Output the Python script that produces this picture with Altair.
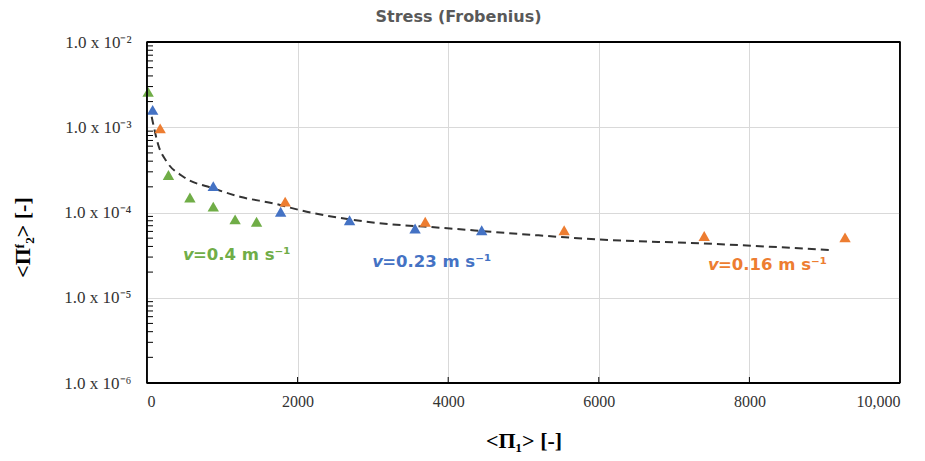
import altair as alt
import pandas as pd

# ---- data ----
green_x = [15, 285, 570, 880, 1170, 1455]
green_y = [2.6e-3, 2.75e-4, 1.5e-4, 1.17e-4, 8.3e-5, 7.8e-5]
blue_x = [75, 880, 1775, 2690, 3560, 4445]
blue_y = [1.6e-3, 2.04e-4, 1.02e-4, 8.1e-5, 6.5e-5, 6.2e-5]
orange_x = [175, 1835, 3695, 5540, 7400, 9270]
orange_y = [9.7e-4, 1.34e-4, 7.8e-5, 6.2e-5, 5.3e-5, 5.1e-5]

series_names = ["v=0.4", "v=0.23", "v=0.16"]
series_colors = ["#70AD47", "#4472C4", "#ED7D31"]

fit_x = [62, 76, 150, 262, 482, 880, 1235, 1677, 2121, 2918, 4024, 5126, 6149, 7344, 9070]
fit_y = [1.33e-3, 1.16e-3, 6.2e-4, 3.95e-4, 2.63e-4, 1.92e-4, 1.53e-4, 1.28e-4,
         1.02e-4, 7.8e-5, 6.5e-5, 5.45e-5, 4.75e-5, 4.35e-5, 3.63e-5]

x_ticks = [0, 2000, 4000, 6000, 8000, 10000]
x_tick_labels = ["0", "2000", "4000", "6000", "8000", "10,000"]
y_ticks = [1e-6, 1e-5, 1e-4, 1e-3, 1e-2]
y_tick_labels = ["1.0 x 10\u207b\u2076", "1.0 x 10\u207b\u2075", "1.0 x 10\u207b\u2074",
                 "1.0 x 10\u207b\u00b3", "1.0 x 10\u207b\u00b2"]
minor_mult = [2, 3, 4, 5, 6, 7, 8, 9]
y_minor = [d * m for d in y_ticks[:-1] for m in minor_mult]

ann_x = [478, 2990, 7450]
ann_y = [3.16e-5, 2.62e-5, 2.42e-5]
ann_text = ["=0.4 m s\u207b\u00b9", "=0.23 m s\u207b\u00b9", "=0.16 m s\u207b\u00b9"]

# ---- tables ----
pts = pd.DataFrame({
    "x": green_x + blue_x + orange_x,
    "y": green_y + blue_y + orange_y,
    "series": [series_names[0]] * 6 + [series_names[1]] * 6 + [series_names[2]] * 6,
})
fit = pd.DataFrame({"x": fit_x, "y": fit_y})
ann = pd.DataFrame({"x": ann_x, "y": ann_y, "t": ann_text, "c": series_colors})
minor_df = pd.DataFrame({"y": y_minor})
xt_df = pd.DataFrame({"x": x_ticks[1:-1]})
one = pd.DataFrame({"k": [0]})

W, H = 753, 341

xscale = alt.Scale(domain=[0, 10000], nice=False, zero=False)
yscale = alt.Scale(type="log", domain=[1e-6, 1e-2], nice=False)

x_lab_expr = "[" + ",".join("'%s'" % s for s in x_tick_labels) + "][round(datum.value/2000)]"
y_lab_expr = "[" + ",".join("'%s'" % s for s in y_tick_labels) + "][round(log(datum.value)/LN10)+6]"

xaxis = alt.Axis(values=x_ticks, labelExpr=x_lab_expr, grid=True, gridColor="#d9d9d9",
                 ticks=False, domain=False, labelFont="Liberation Serif", labelFontSize=16,
                 labelColor="#333333", labelPadding=10,
                 title="<\u03a0\u2081> [-]", titleFont="Liberation Serif", titleFontSize=22,
                 titleFontWeight="bold", titleColor="#000000", titleY=57, titleBaseline="middle")
yaxis = alt.Axis(values=y_ticks, labelExpr=y_lab_expr, grid=True, gridColor="#d9d9d9",
                 ticks=False, domain=False, labelFont="Liberation Serif", labelFontSize=17,
                 labelColor="#333333", labelPadding=16,
                 title="<\u03a0\u1da0\u2082> [-]", titleFont="Liberation Serif", titleFontSize=22,
                 titleFontWeight="bold", titleColor="#000000", titleX=-125, titleY=195,
                 titleBaseline="middle", titleAlign="center")

base_pts = alt.Chart(pts).mark_point(shape="triangle-up", filled=True, opacity=1, size=130).encode(
    x=alt.X("x:Q", scale=xscale, axis=xaxis),
    y=alt.Y("y:Q", scale=yscale, axis=yaxis),
    color=alt.Color("series:N", scale=alt.Scale(domain=series_names, range=series_colors), legend=None),
)

fit_line = alt.Chart(fit).mark_line(color="#333333", strokeDash=[8, 5], strokeWidth=2,
                                     interpolate="monotone").encode(
    x=alt.X("x:Q", scale=xscale), y=alt.Y("y:Q", scale=yscale))

minor = alt.Chart(minor_df).mark_rule(color="#000000", strokeWidth=1).encode(
    y=alt.Y("y:Q", scale=yscale), x=alt.value(0), x2=alt.value(6))

xt = alt.Chart(xt_df).mark_rule(color="#000000", strokeWidth=1).encode(
    x=alt.X("x:Q", scale=xscale), y=alt.value(H), y2=alt.value(H - 6))

frame_style = dict(color="#000000", strokeWidth=1.8)
frame = alt.layer(
    alt.Chart(one).mark_rule(**frame_style).encode(x=alt.value(0), x2=alt.value(W), y=alt.value(0)),
    alt.Chart(one).mark_rule(**frame_style).encode(x=alt.value(0), x2=alt.value(W), y=alt.value(H)),
    alt.Chart(one).mark_rule(**frame_style).encode(x=alt.value(0), y=alt.value(0), y2=alt.value(H)),
    alt.Chart(one).mark_rule(**frame_style).encode(x=alt.value(W), y=alt.value(0), y2=alt.value(H)),
)

ann_v = alt.Chart(ann).mark_text(text="v", font="DejaVu Sans", fontSize=16.5, fontWeight="bold",
                                 fontStyle="italic", align="left", baseline="middle").encode(
    x=alt.X("x:Q", scale=xscale), y=alt.Y("y:Q", scale=yscale), color=alt.Color("c:N", scale=None))
ann_t = alt.Chart(ann).mark_text(font="DejaVu Sans", fontSize=16.5, fontWeight="bold",
                                 align="left", baseline="middle", dx=10).encode(
    x=alt.X("x:Q", scale=xscale), y=alt.Y("y:Q", scale=yscale), text="t:N",
    color=alt.Color("c:N", scale=None))

chart = alt.layer(fit_line, base_pts, minor, xt, frame, ann_v, ann_t).properties(
    width=W, height=H,
    background="white",
    title=alt.TitleParams("Stress (Frobenius)", font="DejaVu Sans", fontSize=16, fontWeight="bold",
                          color="#595959", anchor="middle", dx=-65, dy=22, offset=17,
                          baseline="alphabetic"),
    autosize=alt.AutoSizeParams(type="none"),
    padding={"left": 147, "top": 42, "right": 25, "bottom": 78},
).configure_view(stroke="#000000", strokeWidth=1.5)

chart.save("out.html", embed_options={"renderer": "svg", "actions": False})
